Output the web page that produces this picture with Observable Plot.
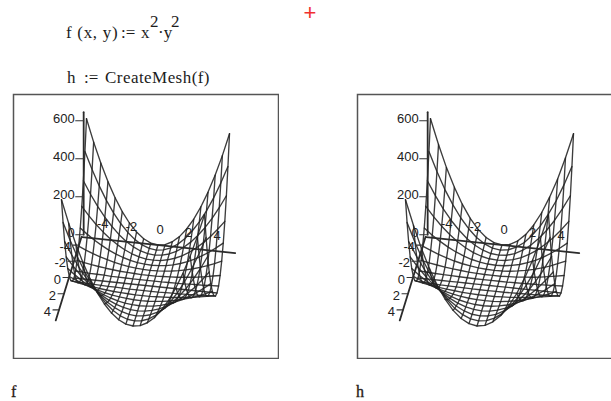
<!DOCTYPE html>
<html><head><meta charset="utf-8">
<script src="https://cdn.jsdelivr.net/npm/d3@7"></script>
<script src="https://cdn.jsdelivr.net/npm/@observablehq/plot@0.6"></script>
<style>
html,body{margin:0;padding:0;background:#fff;overflow:hidden;width:611px;height:401px}
.t{position:absolute;font-family:"Liberation Serif",serif;font-size:17px;color:#1c1c1c;white-space:pre;line-height:1}
.p{position:absolute;width:267px;height:266px}
.p svg{display:block;background:#fff}
</style></head><body>
<div class="t" style="left:66px;top:24px;letter-spacing:.7px">f (x, y)</div>
<div class="t" style="left:121px;top:24px">:=</div>
<div class="t" style="left:141px;top:24px">x</div>
<div class="t" style="left:150px;top:13px">2</div>
<div class="t" style="left:158px;top:24px">·y</div>
<div class="t" style="left:171px;top:13px">2</div>
<div class="t" style="left:67px;top:69px">h</div>
<div class="t" style="left:84px;top:69px">:=</div>
<div class="t" style="left:105px;top:69px;letter-spacing:.45px">CreateMesh(f)</div>
<div class="t" style="left:303.5px;top:2px;font-family:'Liberation Sans';font-size:22px;color:#f03030">+</div>
<div class="t" style="left:11px;top:384px;font-size:16px;-webkit-text-stroke:.3px #2a2015;color:#2a2015">f</div>
<div class="t" style="left:356px;top:384px;font-size:16px;-webkit-text-stroke:.3px #2a2015;color:#2a2015">h</div>
<div class="p" id="pf" style="left:12px;top:93px"></div>
<div class="p" id="ph" style="left:356px;top:93px"></div>
<script>
// Mesh sample positions, distance from centre, both sides
const yGrid = [5, 4.375, 3.75, 3.125, 2.5, 1.875, 1.25, 0.625, 0];
const xGridF = [5, 4.5, 4, 3.5, 3, 2.5, 2, 1.5, 1, 0.5, 0];
const xGridH = [5, 4.44, 3.89, 3.33, 2.78, 2.22, 1.67, 1.11, 0.56, 0];
// One quadrant of the surface heights of each panel (symmetric about both axes)
const zQuadrantF = [
 [625,506,400,306,225,156,100,56,25,6,0],
 [479,388,306,234,172,120,77,43,19,5,0],
 [352,285,225,172,127,88,56,32,14,4,0],
 [244,198,156,120,88,61,39,22,10,2,0],
 [156,127,100,77,56,39,25,14,6,2,0],
 [88,71,56,43,32,22,14,8,4,1,0],
 [39,32,25,19,14,10,6,4,2,0,0],
 [10,8,6,5,4,2,2,1,0,0,0],
 [0,0,0,0,0,0,0,0,0,0,0]
];
const zQuadrantH = [
 [625,494,378,278,193,123,69,31,8,0],
 [479,378,289,213,148,95,53,24,6,0],
 [352,278,213,156,109,69,39,17,4,0],
 [244,193,148,109,75,48,27,12,3,0],
 [156,123,95,69,48,31,17,8,2,0],
 [88,70,53,39,27,17,10,4,1,0],
 [39,31,24,17,12,8,4,2,0,0],
 [10,8,6,4,3,2,1,0,0,0],
 [0,0,0,0,0,0,0,0,0,0]
];
const xTickValues = [-4,-2,0,2,4];
const yTickValues = [-4,-2,0,2,4];
const zTickValues = [600,400,200,0];

// Viewing projection of the 3-D box into panel units
const origin = [133, 192], ex = [14.3, 1.5], ey = [-2.5, 8.1], ez = -0.19;
const project = (x, y, z) => ({u: origin[0] + x*ex[0] + y*ey[0], v: origin[1] + x*ex[1] + y*ey[1] + z*ez});

function buildMesh(xGrid, zQuadrant) {
  const nx = xGrid.length, ny = yGrid.length, sx = 2*nx - 1, sy = 2*ny - 1;
  const sgnX = i => i < nx - 1 ? -xGrid[i] : xGrid[sx - 1 - i];
  const sgnY = j => j < ny - 1 ? -yGrid[j] : yGrid[sy - 1 - j];
  const qx = i => i < nx ? i : sx - 1 - i, qy = j => j < ny ? j : sy - 1 - j;
  const out = [];
  for (let j = 0; j < sy; j++) for (let i = 0; i < sx; i++)
    out.push({s: "a"+j, ...project(sgnX(i), sgnY(j), zQuadrant[qy(j)][qx(i)])});
  for (let i = 0; i < sx; i++) for (let j = 0; j < sy; j++)
    out.push({s: "b"+i, ...project(sgnX(i), sgnY(j), zQuadrant[qy(j)][qx(i)])});
  return out;
}

const axisSegs = [
  {s:"x", ...project(-5.3,-5,0)}, {s:"x", ...project(5.4,-5,0)},
  {s:"y", ...project(-5.35,-5,0)}, {s:"y", ...project(-5.35,5.3,0)},
  {s:"z", ...project(-5.25,-5.3,0)}, {s:"z", ...project(-5.25,-5.3,645)}
];
const zAt = z => project(-5.25,-5.3,z), yAt = y => project(-5.35,y,0);
const tickSegs = [
  ...zTickValues.flatMap(z => [{s:"z"+z, u:zAt(z).u-8, v:zAt(z).v},{s:"z"+z, ...zAt(z)}]),
  ...yTickValues.flatMap(y => [{s:"y"+y, u:yAt(y).u-6, v:yAt(y).v},{s:"y"+y, ...yAt(y)}])
];
const font = {fontSize:13, fontFamily:"Liberation Sans", fill:"#222"};

function panel(mesh) {
  return Plot.plot({
    width: 267, height: 266, margin: 0,
    x: {domain: [0, 267], range: [0, 267], axis: null},
    y: {domain: [0, 266], range: [0, 266], axis: null},
    marks: [
      Plot.line(mesh, {x:"u", y:"v", z:"s", stroke:"#222", strokeWidth:1.35, strokeOpacity:0.88}),
      Plot.line(axisSegs, {x:"u", y:"v", z:"s", stroke:"#2b2b2b", strokeWidth:1.8}),
      Plot.line(tickSegs, {x:"u", y:"v", z:"s", stroke:"#333", strokeWidth:1.1}),
      Plot.text(zTickValues, {x:z=>zAt(z).u-9, y:z=>zAt(z).v-2, text:z=>String(z), textAnchor:"end", ...font}),
      Plot.text(yTickValues, {x:y=>yAt(y).u-8, y:y=>yAt(y).v+2, text:y=>String(y), textAnchor:"end", ...font}),
      Plot.text(xTickValues, {x:x=>project(x,-5,0).u+2, y:x=>project(x,-5,0).v-15, text:x=>String(x), ...font}),
      Plot.frame({stroke:"#555", strokeWidth:1.5, inset:1})
    ]
  });
}
document.getElementById("pf").append(panel(buildMesh(xGridF, zQuadrantF)));
document.getElementById("ph").append(panel(buildMesh(xGridH, zQuadrantH)));
</script>
</body></html>
